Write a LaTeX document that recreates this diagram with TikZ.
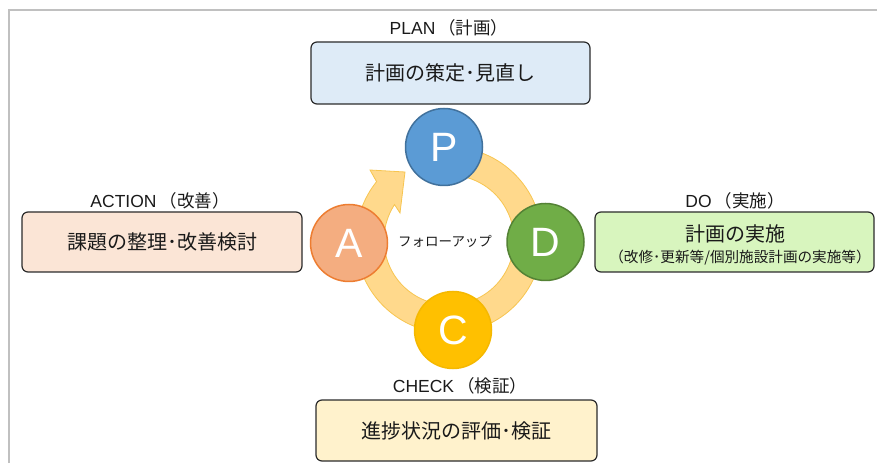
\documentclass[tikz,border=0pt]{standalone}
\usepackage{fontspec}
\setmainfont{Liberation Sans}
\newfontfamily\jp{Noto Sans CJK JP}
\definecolor{frameline}{HTML}{C0C0C0}
\definecolor{boxline}{HTML}{2B2B2B}
\definecolor{planfill}{HTML}{DEEBF7}
\definecolor{actfill}{HTML}{FBE5D6}
\definecolor{dofill}{HTML}{D8F5BE}
\definecolor{checkfill}{HTML}{FFF2CC}
\definecolor{ringfill}{HTML}{FFD98C}
\definecolor{ringline}{HTML}{F7C550}
\definecolor{pfill}{HTML}{5B9BD5}
\definecolor{pline}{HTML}{41719C}
\definecolor{afill}{HTML}{F4AD80}
\definecolor{aline}{HTML}{ED7D31}
\definecolor{dfill}{HTML}{70AD47}
\definecolor{dline}{HTML}{548235}
\definecolor{cfill}{HTML}{FFC000}
\definecolor{cline}{HTML}{F5B800}
\definecolor{txt}{HTML}{1A1A1A}
\begin{document}
\begin{tikzpicture}[x=1pt,y=1pt,
  phasebox/.style={draw=boxline, line width=1.2pt, rounded corners=6pt,
    minimum width=280pt, minimum height=61pt, inner sep=0pt, align=center,
    text=txt, font=\jp\fontsize{20}{24}\selectfont},
  phaselabel/.style={inner sep=0pt, text=txt, font=\fontsize{17.5}{20}\selectfont},
  letter/.style={circle, minimum size=77pt, inner sep=0pt, line width=1.5pt,
    text=white, font=\fontsize{41}{41}\selectfont}]
\useasboundingbox (0,0) rectangle (877,463);
% frame
\draw[frameline, line width=1.5pt] (9,0) -- (9,453) -- (877,453);
% ring arrow
\filldraw[fill=ringfill, draw=ringline, line width=0.8pt]
  (449,316) arc[start angle=90, end angle=-218.85, radius=93pt]
  -- (370,293) -- (405,291) -- (400,250) -- (394.5,258.4)
  arc[start angle=-213, end angle=90, radius=65pt] -- cycle;
% centre text
\node[inner sep=0pt, text=txt, font=\jp\fontsize{13.5}{15}\selectfont] (follow) at (445,222) {フォローアップ};
% circles
\node[letter, fill=pfill, draw=pline] (P) at (444,316) {P};
\node[letter, fill=afill, draw=aline] (A) at (349,220) {A};
\node[letter, fill=dfill, draw=dline] (D) at (545.5,221) {D};
\node[letter, fill=cfill, draw=cline] (C) at (453,133) {C};
% boxes
\node[phasebox, fill=planfill, minimum width=279pt, minimum height=62pt] (planbox) at (450.5,390) {計画の策定･見直し};
\node[phasebox, fill=actfill, minimum height=60pt] (actbox) at (162,221) {課題の整理･改善検討};
\node[phasebox, fill=dofill, minimum width=279pt, minimum height=60pt] (dobox) at (734.5,221) {};
\node[inner sep=0pt, text=txt, font=\jp\fontsize{20}{24}\selectfont] (dotext) at (735,229) {計画の実施};
\node[inner sep=0pt, text=txt, font=\jp\fontsize{14.6}{16}\selectfont] (dosub) at (740,205) {（改修･更新等/個別施設計画の実施等）};
\node[phasebox, fill=checkfill, minimum width=281pt] (checkbox) at (456.5,32.5) {進捗状況の評価･検証};
% labels
\node[phaselabel] (planlab) at (449,435) {PLAN{\jp\,（計画）}};
\node[phaselabel] (actlab) at (160,262.5) {ACTION{\jp\,（改善）}};
\node[phaselabel] (dolab) at (735,262) {DO{\jp\,（実施）}};
\node[phaselabel] (checklab) at (460,77.5) {CHECK{\jp\,（検証）}};
\end{tikzpicture}
\end{document}
